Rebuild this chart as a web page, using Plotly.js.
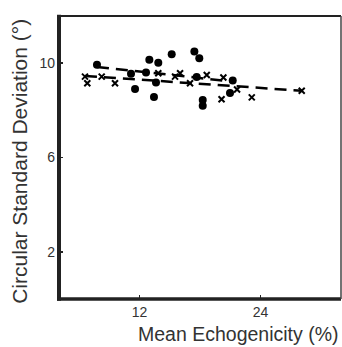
<!DOCTYPE html>
<html>
<head>
<meta charset="utf-8">
<script src="https://cdn.plot.ly/plotly-3.0.1.min.js"></script>
<style>html,body{margin:0;padding:0;background:#fff;}#chart{width:342px;height:347px;}</style>
</head>
<body>
<div id="chart"></div>
<script>
// Circles series
const circleX = [7.77, 11.15, 12.64, 11.55, 12.97, 13.86, 13.63, 13.43, 15.19, 17.44, 17.93, 17.67, 18.27, 18.27, 21.25, 20.98];
const circleY = [9.93, 9.55, 9.60, 8.90, 10.14, 10.02, 9.18, 8.57, 10.38, 10.49, 10.21, 9.41, 8.44, 8.19, 9.26, 8.73];
// Crosses series
const crossX = [6.58, 6.81, 8.24, 9.56, 13.86, 15.52, 16.02, 17.01, 18.67, 20.32, 21.68, 20.14, 23.14, 28.10];
const crossY = [9.43, 9.15, 9.43, 9.15, 9.57, 9.43, 9.57, 9.15, 9.50, 9.39, 8.88, 8.47, 8.55, 8.83];
// Fit lines (endpoints)
const fitCircleX = [7.77, 21.25];
const fitCircleY = [9.84, 9.22];
const fitCrossX = [6.58, 28.10];
const fitCrossY = [9.46, 8.83];
// Axis ticks
const xTicks = [12, 24];
const yTicks = [2, 6, 10];

const font = 'Liberation Sans, Arial, sans-serif';
const data = [
  {x: fitCircleX, y: fitCircleY, mode: 'lines', type: 'scatter',
   line: {color: '#000', width: 2.5, dash: '12px,7px'}, hoverinfo: 'skip'},
  {x: fitCrossX, y: fitCrossY, mode: 'lines', type: 'scatter',
   line: {color: '#000', width: 2.5, dash: '12px,7px'}, hoverinfo: 'skip'},
  {x: circleX, y: circleY, mode: 'markers', type: 'scatter',
   marker: {symbol: 'circle', size: 8, color: '#000'}},
  {x: crossX, y: crossY, mode: 'markers', type: 'scatter',
   marker: {symbol: 'x-thin', size: 6, color: '#000', line: {color: '#000', width: 2}}}
];

const layout = {
  width: 342, height: 347,
  margin: {l: 59, r: 1, t: 16, b: 47.5, pad: 0},
  paper_bgcolor: '#fff', plot_bgcolor: '#fff',
  showlegend: false,
  font: {family: font, color: '#333'},
  xaxis: {
    range: [4, 32], tickvals: xTicks, ticktext: xTicks.map(String),
    ticks: 'inside', ticklen: 4, tickwidth: 1.5, tickcolor: '#222',
    showgrid: false, zeroline: false, showline: false, ticklabelstandoff: 3,
    tickfont: {family: font, size: 14, color: '#333'}
  },
  yaxis: {
    range: [0, 12], tickvals: yTicks, ticktext: yTicks.map(String),
    ticks: 'inside', ticklen: 4, tickwidth: 1.5, tickcolor: '#222',
    showgrid: false, zeroline: false, showline: false, ticklabelstandoff: 3,
    tickfont: {family: font, size: 14, color: '#333'}
  },
  shapes: [
    {type: 'line', xref: 'paper', yref: 'paper', x0: 0, x1: 0, y0: -0.006, y1: 1.004, line: {color: '#222', width: 4}},
    {type: 'line', xref: 'paper', yref: 'paper', x0: -0.007, x1: 1, y0: 0, y1: 0, line: {color: '#222', width: 3.5}},
    {type: 'line', xref: 'paper', yref: 'paper', x0: -0.007, x1: 1, y0: 1, y1: 1, line: {color: '#222', width: 2}},
    {type: 'line', xref: 'paper', yref: 'paper', x0: 1, x1: 1, y0: 0, y1: 1, line: {color: '#444', width: 1.5}}
  ],
  annotations: [
    {text: 'Mean Echogenicity (%)', xref: 'paper', yref: 'paper', x: 0.635, y: -0.078,
     xanchor: 'center', yanchor: 'top', showarrow: false,
     font: {family: font, size: 19.5, color: '#333'}},
    {text: 'Circular Standard Deviation (°)', xref: 'paper', yref: 'paper', x: -0.138, y: 0.485,
     xanchor: 'center', yanchor: 'middle', showarrow: false, textangle: -90,
     font: {family: font, size: 21, color: '#333'}}
  ]
};

Plotly.newPlot('chart', data, layout, {displayModeBar: false, staticPlot: true});
</script>
</body>
</html>
